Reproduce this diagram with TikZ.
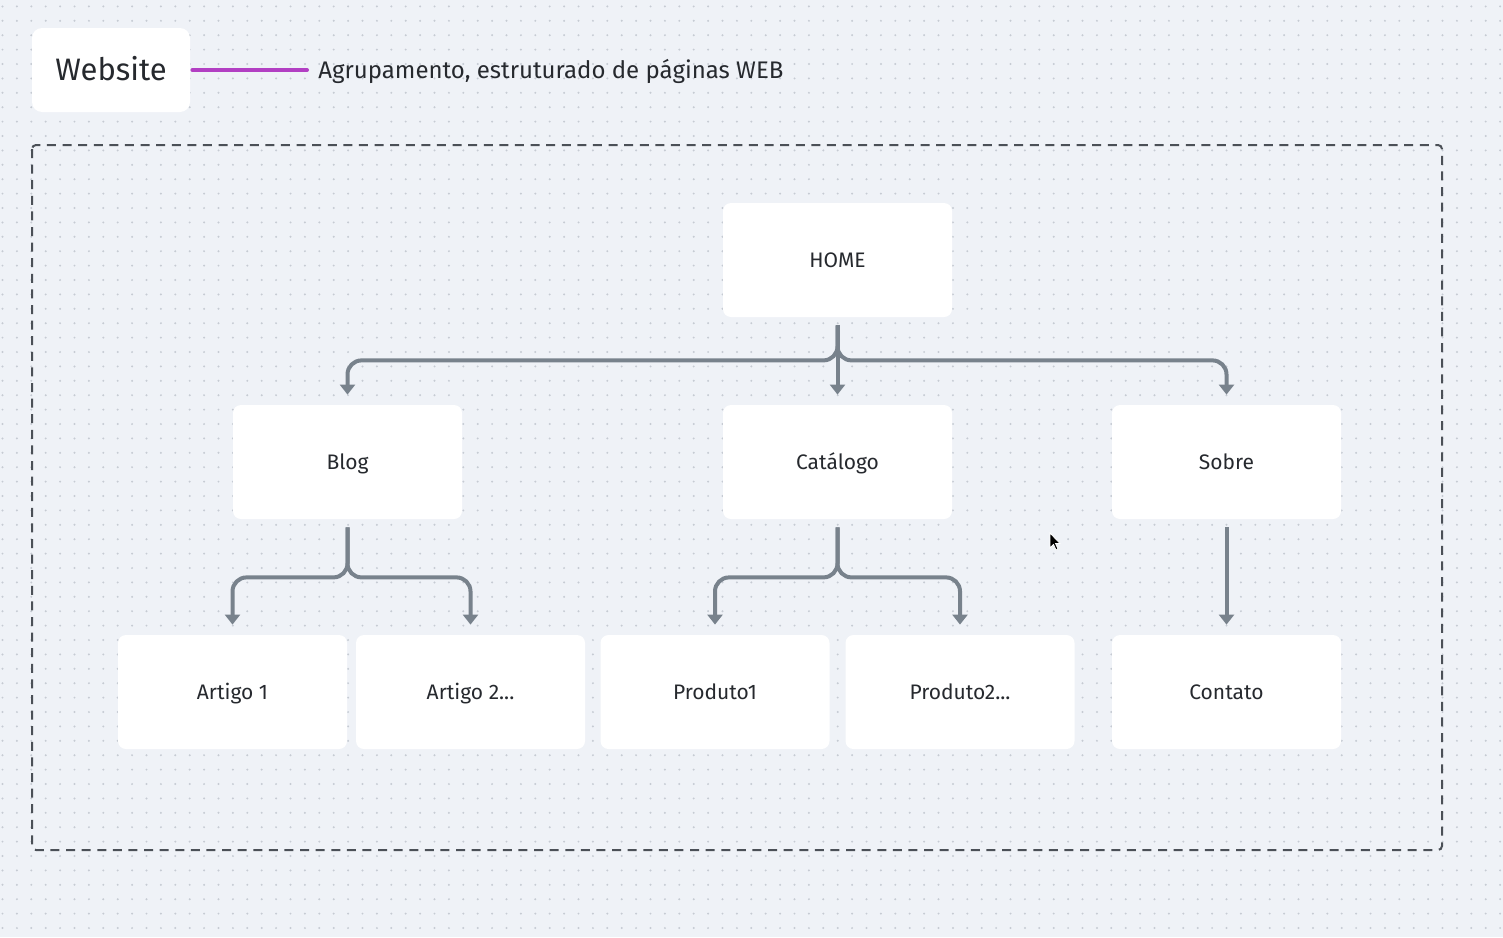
\documentclass[tikz,border=0pt]{standalone}
\usepackage{fontspec}
\setmainfont{Fira Sans}
\usetikzlibrary{arrows.meta}
\definecolor{paper}{HTML}{EFF2F7}
\definecolor{griddot}{HTML}{C6CBD3}
\definecolor{ink}{HTML}{26292E}
\definecolor{wire}{HTML}{78828C}
\definecolor{frame}{HTML}{4B5057}
\definecolor{orchid}{HTML}{B23FC3}
\newcommand\moredots{...}

\begin{document}
\begin{tikzpicture}[x=0.5pt,y=-0.5pt,
  page/.style={fill=white,rounded corners=4pt,minimum width=114.5pt,minimum height=57pt,
    inner sep=0pt,text height=8.9pt,text depth=1.5pt,text=ink,font=\fontsize{10.5}{12}\selectfont},
  link/.style={draw=wire,line width=2pt,rounded corners=7pt,-{Triangle[width=7.5pt,length=5pt]}}]
  \useasboundingbox (0,0) rectangle (1503,937);
  \fill[paper] (0,0) rectangle (1503,937);
  \foreach \r in {0,...,64}{
     \draw[griddot,line width=1.1pt,line cap=round,dash pattern=on 0pt off 7.2pt]
       (2.5,{6.4+\r*14.4}) -- (1503,{6.4+\r*14.4});}
  % legend
  \node[fill=white,rounded corners=5pt,minimum width=79pt,minimum height=42pt,inner sep=0pt,
        text height=12.2pt,text depth=1.5pt,text=ink,font=\fontsize{15.5}{18}\selectfont] (website) at (111,70) {Website};
  \node[anchor=west,inner sep=0pt,text height=9.8pt,text depth=1.5pt,text=ink,
        font=\fontsize{12}{14}\selectfont] (desc) at (318,70)
       {Agrupamento, estruturado de páginas WEB};
  \draw[orchid,line width=2pt,line cap=round] ([xshift=1pt]website.east) -- ([xshift=-5.5pt]desc.west);
  \draw[frame,line width=1pt,rounded corners=2pt,dash pattern=on 4.5pt off 3.3pt] (32,145) rectangle (1442,850);
  % pages
  \foreach \n/\x/\y/\t in {home/837.5/260/HOME,blog/347.5/462/Blog,cat/837.5/462/Catálogo,
     sobre/1226.5/462/Sobre,art1/232.5/692/Artigo 1,art2/470.5/692/Artigo 2\moredots,
     prod1/715/692/Produto1,prod2/960/692/Produto2\moredots,contato/1226.5/692/Contato}
     \node[page] (\n) at (\x,\y) {\t};
  % links
  \foreach \a/\b/\d in {home/blog/35,home/sobre/35,blog/art1/50,blog/art2/50,cat/prod1/50,cat/prod2/50}
     \draw[link] ([yshift=-4pt]\a.south) -- ++(0,\d) -| ([yshift=5pt]\b.north);
  \draw[link] ([yshift=-4pt]home.south) -- ([yshift=5pt]cat.north);
  \draw[link] ([yshift=-4pt]sobre.south) -- ([yshift=5pt]contato.north);
  % cursor
  \fill[black,draw=white,line width=0.4pt] (1050,533) -- (1050,548) -- (1053.5,544.5) -- (1056,550)
     -- (1058,549) -- (1055.5,543.5) -- (1060,543.5) -- cycle;
\end{tikzpicture}
\end{document}
